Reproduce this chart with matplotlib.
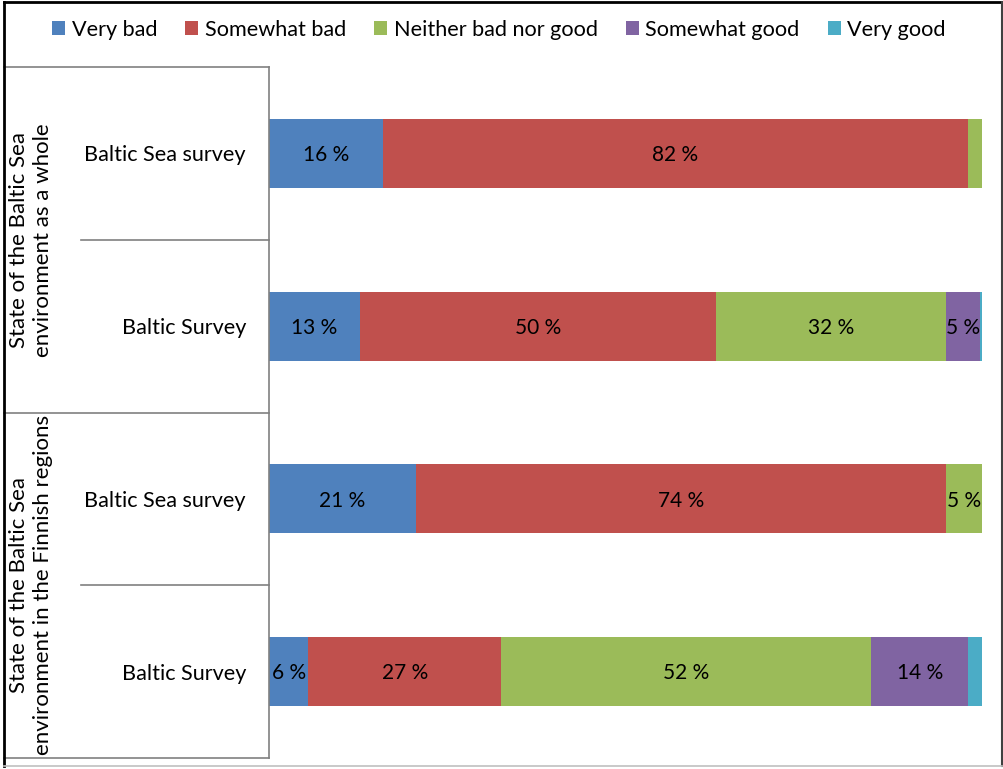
import matplotlib
matplotlib.use('Agg')
import matplotlib.pyplot as plt
from matplotlib.lines import Line2D
from matplotlib.patches import Patch
import numpy as np

plt.rcParams['font.family'] = ['Lato', 'DejaVu Sans']

# data, rows top to bottom
rows = ['Baltic Sea survey', 'Baltic Survey', 'Baltic Sea survey', 'Baltic Survey']
groups = ['State of the Baltic Sea\nenvironment as a whole',
          'State of the Baltic Sea\nenvironment in the Finnish regions']
series = ['Very bad', 'Somewhat bad', 'Neither bad nor good', 'Somewhat good', 'Very good']
very_bad = [16.0, 12.7, 20.6, 5.5]
somewhat_bad = [82.0, 50.0, 74.4, 27.1]
neither = [2.0, 32.3, 5.0, 51.9]
somewhat_good = [0.0, 4.7, 0.0, 13.6]
very_good = [0.0, 0.3, 0.0, 1.9]
colors = ['#4F81BD', '#C0504D', '#9BBB59', '#8064A2', '#4BACC6']

W, H = 1004, 769
fig = plt.figure(figsize=(W / 100, H / 100), dpi=100)

x0, x1 = 269, 982
ytop, ybot = 67, 758
ax = fig.add_axes([x0 / W, 1 - ybot / H, (x1 - x0) / W, (ybot - ytop) / H])

vals = [very_bad, somewhat_bad, neither, somewhat_good, very_good]
ypos = np.arange(len(rows))
left = np.zeros(len(rows))
for name, v, c in zip(series, vals, colors):
    v = np.array(v)
    ax.barh(ypos, v, left=left, height=0.4, color=c, label=name, edgecolor='none')
    for yi, (l, w) in enumerate(zip(left, v)):
        if w >= 4:
            ax.text(l + w / 2, yi + 0.01, f"{w:.0f} %", ha='center', va='center',
                    fontsize=15, color='black')
    left += v

ax.set_xlim(0, 100)
ax.set_ylim(len(rows) - 0.5, -0.5)
ax.set_xticks([])
ax.set_yticks([])
for s in ['top', 'right', 'bottom']:
    ax.spines[s].set_visible(False)
ax.spines['left'].set_color('#808080')
ax.spines['left'].set_linewidth(1.2)

# label table on the left
def hline(y, xa, xb, color='#808080', lw=1.2):
    fig.add_artist(Line2D([xa / W, xb / W], [1 - y / H, 1 - y / H], color=color, lw=lw))

def vline(x, ya, yb, color='#808080', lw=1.2):
    fig.add_artist(Line2D([x / W, x / W], [1 - ya / H, 1 - yb / H], color=color, lw=lw))

row_h = (ybot - ytop) / len(rows)
hline(ytop, 4, x0)
hline(ytop + 2 * row_h, 4, x0)
hline(ybot, 4, x0)
hline(ytop + row_h, 81, x0)
hline(ytop + 3 * row_h, 81, x0)

for i, r in enumerate(rows):
    fig.text(246 / W, 1 - (ytop + (i + 0.5) * row_h + 2) / H, r, ha='right', va='center',
             fontsize=15.6)
for g, name in enumerate(groups):
    yc = ytop + (2 * g + 1) * row_h
    fig.text(31 / W, 1 - yc / H, name, rotation=90, ha='center', va='center',
             fontsize=16, linespacing=1.2)

# outer frame
vline(4, 2, 766, color='black', lw=2)
hline(2, 4, 1002, color='black', lw=2)
vline(1002, 2, 766, color='#404040', lw=1.5)
hline(766, 4, 1002, color='#C0C0C0', lw=1.2)

handles = [Patch(facecolor=c, edgecolor='none', label=n) for n, c in zip(series, colors)]
fig.legend(handles=handles, loc='center', bbox_to_anchor=(499 / W, 1 - 30 / H), ncol=5,
           frameon=False, fontsize=15.6, handlelength=0.6, handleheight=0.6,
           handletextpad=0.3, columnspacing=1.3)

fig.savefig('out.png', dpi=100)
